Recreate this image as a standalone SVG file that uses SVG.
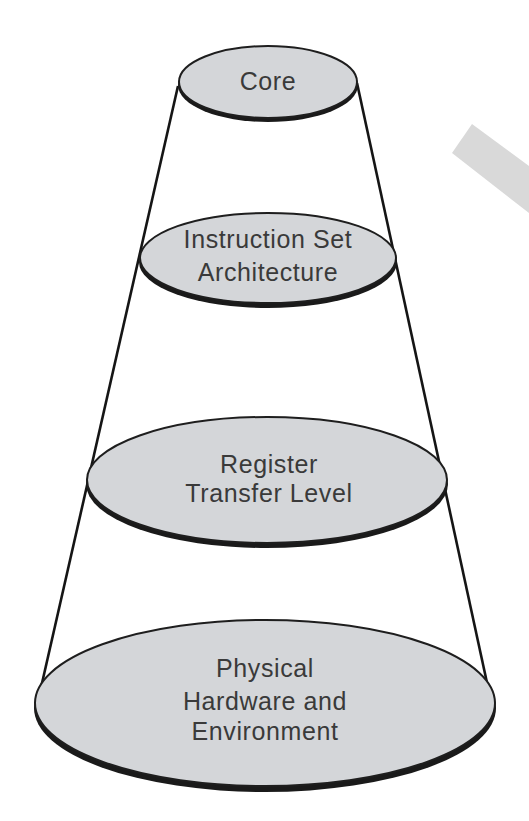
<svg xmlns="http://www.w3.org/2000/svg" width="529" height="821" viewBox="0 0 529 821">
<style>
.disc{fill:#d4d6d9;stroke:#1e1e1e;stroke-width:2}
.shadow{fill:#1a1a1a}
.lbl{font-family:"Liberation Sans",Arial,sans-serif;font-size:25px;fill:#3a3a3a;text-anchor:middle;letter-spacing:0.6px}
.edge{stroke:#151515;stroke-width:2.6;fill:none}
</style>
<rect width="529" height="821" fill="#ffffff"/>
<polygon points="472,124 529,166 529,213 452,153" fill="#d9d9d9"/>
<g id="connectors">
<line class="edge" x1="178" y1="86" x2="40" y2="692"/>
<line class="edge" x1="357" y1="83" x2="489" y2="692"/>
</g>
<g id="core">
<ellipse class="shadow" cx="268" cy="85" rx="90" ry="37"/>
<ellipse class="disc" cx="268" cy="82" rx="89" ry="36"/>
<text class="lbl" x="268" y="90">Core</text>
</g>
<g id="isa">
<ellipse class="shadow" cx="268" cy="262" rx="129" ry="46"/>
<ellipse class="disc" cx="268" cy="258" rx="128" ry="45"/>
<text class="lbl" x="268" y="248">Instruction Set</text>
<text class="lbl" x="268" y="281">Architecture</text>
</g>
<g id="rtl">
<ellipse class="shadow" cx="267" cy="484" rx="181" ry="64"/>
<ellipse class="disc" cx="267" cy="480" rx="180" ry="63"/>
<text class="lbl" x="269" y="473">Register</text>
<text class="lbl" x="269" y="502">Transfer Level</text>
</g>
<g id="physical">
<ellipse class="shadow" cx="265" cy="708" rx="231" ry="84"/>
<ellipse class="disc" cx="265" cy="703" rx="230" ry="83"/>
<text class="lbl" x="265" y="677">Physical</text>
<text class="lbl" x="265" y="710">Hardware and</text>
<text class="lbl" x="265" y="740">Environment</text>
</g>
</svg>
